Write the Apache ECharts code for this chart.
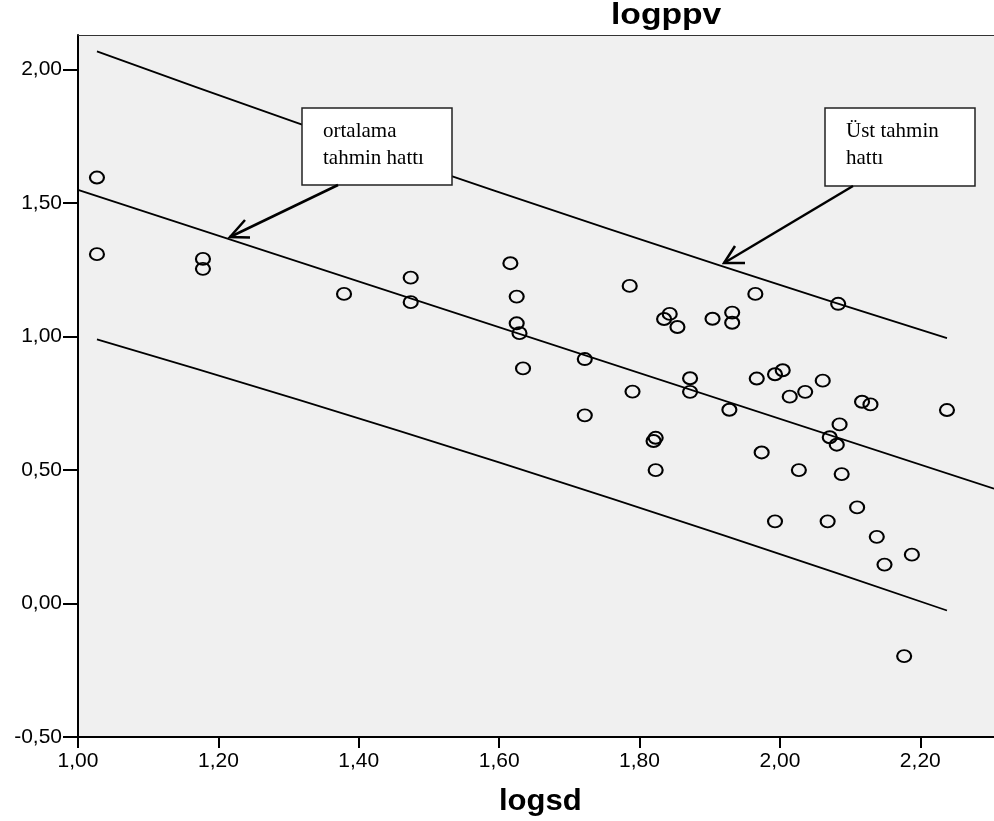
<!DOCTYPE html>
<html lang="tr">
<head>
	<meta charset="UTF-8">
	<title>logsd - logppv</title>
	<script src="https://cdn.jsdelivr.net/npm/echarts@6.0.0/dist/echarts.min.js"></script>
	<style>
		body { margin: 0; background: #fff; }
	</style>
</head>
<body>
	<div id="main" style="width: 994px; height: 821px;"></div>
	<script>
		// gözlemler (logsd, logppv)
		var logsd = [1.027, 1.027, 1.178, 1.178, 1.379, 1.474, 1.474, 1.616, 1.625, 1.625,
			1.629, 1.634, 1.722, 1.722, 1.786, 1.790, 1.835, 1.843, 1.854, 1.872,
			1.872, 1.823, 1.820, 1.823, 1.904, 1.932, 1.932, 1.965, 2.083, 1.967,
			1.993, 2.004, 2.061, 2.014, 2.036, 2.117, 2.129, 1.928, 2.085, 2.071,
			2.081, 1.974, 2.027, 2.088, 2.110, 1.993, 2.068, 2.138, 2.188, 2.149,
			2.177, 2.238]
		var logppv = [1.596, 1.309, 1.291, 1.254, 1.160, 1.221, 1.129, 1.275, 1.150, 1.050,
			1.013, 0.881, 0.916, 0.705, 1.190, 0.794, 1.066, 1.085, 1.036, 0.844,
			0.793, 0.621, 0.609, 0.500, 1.067, 1.090, 1.052, 1.160, 1.123, 0.843,
			0.859, 0.874, 0.835, 0.775, 0.793, 0.756, 0.746, 0.726, 0.671, 0.623,
			0.595, 0.566, 0.500, 0.485, 0.360, 0.308, 0.308, 0.250, 0.183, 0.146,
			-0.197, 0.725]

		// ortalama tahmin hattı ve tahmin sınırları
		var fitX = [1.00, 2.305]
		var fitY = [1.550, 0.430]
		var upperX = [1.027, 1.593, 2.238]
		var upperY = [2.069, 1.547, 0.994]
		var lowerX = [1.027, 1.601, 2.238]
		var lowerY = [0.990, 0.528, -0.026]

		var xTicks = [1.0, 1.2, 1.4, 1.6, 1.8, 2.0, 2.2]
		var yTicks = [-0.5, 0, 0.5, 1.0, 1.5, 2.0]

		function pairs(xs, ys) {
			var out = []
			for (var i = 0; i < xs.length; i++) {
				out.push([xs[i], ys[i]])
			}
			return out
		}

		function fmt(v) {
			return v.toFixed(2).replace('.', ',')
		}

		var labelFont = 'Liberation Sans, Arial, sans-serif'
		var boxFont = 'Liberation Serif, Times New Roman, serif'

		function lineSeries(xs, ys) {
			return {
				type: 'line',
				data: pairs(xs, ys),
				xAxisIndex: 0,
				showSymbol: false,
				smooth: xs.length > 2 ? 0.5 : false,
				silent: true,
				z: 2,
				lineStyle: { color: '#000', width: 1.8 }
			}
		}

		var myChart = echarts.init(document.getElementById('main'))

		var option = {
			animation: false,
			backgroundColor: '#fff',
			grid: {
				left: 78,
				top: 35,
				right: 0,
				bottom: 84,
				show: true,
				backgroundColor: '#f0f0f0',
				borderWidth: 0
			},
			xAxis: [
				{
					type: 'value',
					min: 1.0,
					max: 2.305,
					position: 'bottom',
					axisLine: { show: true, onZero: false, lineStyle: { color: '#000', width: 2 } },
					axisTick: { show: true, length: 11, customValues: xTicks, lineStyle: { color: '#000', width: 2 } },
					axisLabel: {
						customValues: xTicks,
						formatter: fmt,
						margin: 14,
						color: '#000',
						fontSize: 21,
						fontFamily: labelFont
					},
					splitLine: { show: false }
				},
				{
					type: 'value',
					min: 1.0,
					max: 2.305,
					position: 'top',
					axisLine: { show: true, onZero: false, lineStyle: { color: '#333', width: 1 } },
					axisTick: { show: false },
					axisLabel: { show: false },
					splitLine: { show: false }
				}
			],
			yAxis: {
				type: 'value',
				min: -0.5,
				max: 2.13,
				axisLine: { show: true, onZero: false, lineStyle: { color: '#000', width: 2 } },
				axisTick: { show: true, length: 15, customValues: yTicks, lineStyle: { color: '#000', width: 2 } },
				axisLabel: {
					customValues: yTicks,
					formatter: fmt,
					margin: 16,
					color: '#000',
					fontSize: 21,
					fontFamily: labelFont
				},
				splitLine: { show: false }
			},
			series: [
				lineSeries(fitX, fitY),
				lineSeries(upperX, upperY),
				lineSeries(lowerX, lowerY),
				{
					type: 'scatter',
					data: pairs(logsd, logppv),
					symbol: 'path://M0,5A5,5 0 1,0 10,5A5,5 0 1,0 0,5Z',
					symbolSize: [14, 12],
					silent: true,
					z: 3,
					itemStyle: {
						color: 'rgba(0,0,0,0)',
						borderColor: '#000',
						borderWidth: 2,
						opacity: 1
					}
				}
			],
			graphic: [
				// eksen başlıkları
				{
					type: 'text', x: 611, y: 1, scaleX: 1.16, z: 10,
					style: { text: 'logppv', fill: '#000', font: 'bold 29px ' + labelFont, verticalAlign: 'top' }
				},
				{
					type: 'text', x: 499, y: 787, scaleX: 1.07, z: 10,
					style: { text: 'logsd', fill: '#000', font: 'bold 29px ' + labelFont, verticalAlign: 'top' }
				},
				// açıklama kutuları
				{
					type: 'rect', z: 10,
					shape: { x: 302, y: 108, width: 150, height: 77 },
					style: { fill: '#fff', stroke: '#222', lineWidth: 1.5 }
				},
				{
					type: 'text', x: 323, y: 118, z: 11,
					style: { text: 'ortalama\ntahmin hattı', fill: '#000', font: '21px ' + boxFont, lineHeight: 27, verticalAlign: 'top' }
				},
				{
					type: 'rect', z: 10,
					shape: { x: 825, y: 108, width: 150, height: 78 },
					style: { fill: '#fff', stroke: '#222', lineWidth: 1.5 }
				},
				{
					type: 'text', x: 846, y: 118, z: 11,
					style: { text: 'Üst tahmin\nhattı', fill: '#000', font: '21px ' + boxFont, lineHeight: 27, verticalAlign: 'top' }
				},
				// oklar
				{
					type: 'polyline', z: 10,
					shape: { points: [[338, 185], [230, 237]] },
					style: { stroke: '#000', lineWidth: 2.5, fill: null }
				},
				{
					type: 'polyline', z: 10,
					shape: { points: [[245, 220], [230, 237], [250, 237.5]] },
					style: { stroke: '#000', lineWidth: 2.5, fill: null }
				},
				{
					type: 'polyline', z: 10,
					shape: { points: [[853, 186], [724, 263]] },
					style: { stroke: '#000', lineWidth: 2.5, fill: null }
				},
				{
					type: 'polyline', z: 10,
					shape: { points: [[735, 246], [724, 263], [745, 263]] },
					style: { stroke: '#000', lineWidth: 2.5, fill: null }
				}
			]
		}

		myChart.setOption(option)
	</script>
</body>
</html>
